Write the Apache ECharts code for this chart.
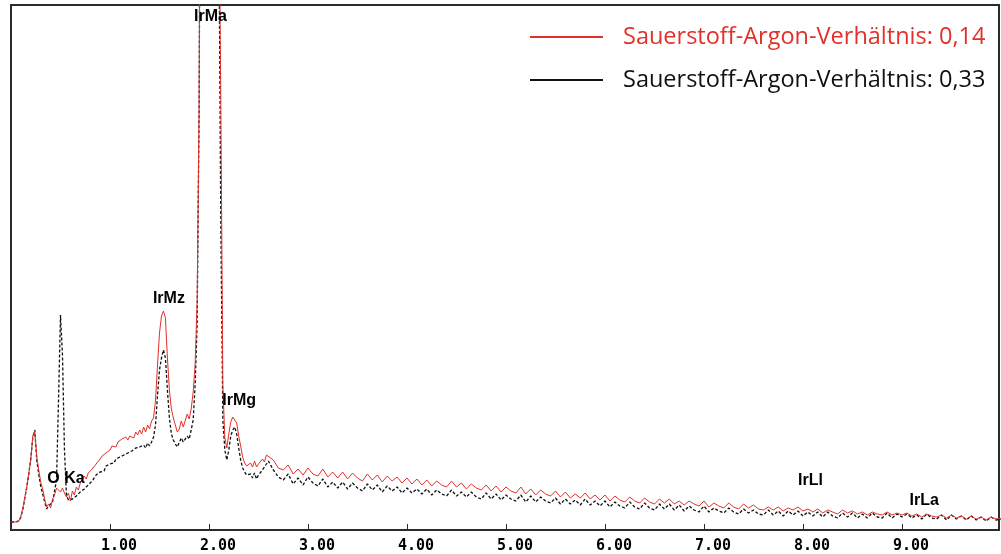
<!DOCTYPE html>
<html>
<head>
<meta charset="utf-8">
<script src="https://cdn.jsdelivr.net/npm/echarts@6/dist/echarts.min.js"></script>
<style>
  html, body { margin: 0; padding: 0; background: #fff; }
  #spectrum { width: 1001px; height: 554px; }
</style>
</head>
<body>
<div id="spectrum"></div>
<script>
// channel energies (keV)
const energy = [
  0, 0.02, 0.04, 0.06, 0.08, 0.1, 0.12, 0.14, 0.16, 0.18,
  0.2, 0.22, 0.24, 0.26, 0.28, 0.3, 0.32, 0.34, 0.36, 0.38,
  0.4, 0.42, 0.44, 0.46, 0.48, 0.5, 0.52, 0.54, 0.56, 0.58,
  0.6, 0.62, 0.64, 0.66, 0.68, 0.7, 0.72, 0.74, 0.76, 0.78,
  0.8, 0.82, 0.84, 0.86, 0.88, 0.9, 0.92, 0.94, 0.96, 0.98,
  1, 1.02, 1.04, 1.06, 1.08, 1.1, 1.12, 1.14, 1.16, 1.18,
  1.2, 1.22, 1.24, 1.26, 1.28, 1.3, 1.32, 1.34, 1.36, 1.38,
  1.4, 1.42, 1.44, 1.46, 1.48, 1.5, 1.52, 1.54, 1.56, 1.58,
  1.6, 1.62, 1.64, 1.66, 1.68, 1.7, 1.72, 1.74, 1.76, 1.78,
  1.8, 1.82, 1.84, 1.86, 1.88, 1.9, 1.92, 1.94, 1.96, 1.98,
  2, 2.02, 2.04, 2.06, 2.08, 2.1, 2.12, 2.14, 2.16, 2.18,
  2.2, 2.22, 2.24, 2.26, 2.28, 2.3, 2.32, 2.34, 2.36, 2.38,
  2.4, 2.42, 2.44, 2.46, 2.48, 2.5, 2.52, 2.54, 2.56, 2.58,
  2.6,
  2.65, 2.7, 2.75, 2.8, 2.85, 2.9, 2.95, 3, 3.05, 3.1,
  3.15, 3.2, 3.25, 3.3, 3.35, 3.4, 3.45, 3.5, 3.55, 3.6,
  3.65, 3.7, 3.75, 3.8, 3.85, 3.9, 3.95, 4, 4.05, 4.1,
  4.15, 4.2, 4.25, 4.3, 4.35, 4.4, 4.45, 4.5, 4.55, 4.6,
  4.65, 4.7, 4.75, 4.8, 4.85, 4.9, 4.95, 5, 5.05, 5.1,
  5.15, 5.2, 5.25, 5.3, 5.35, 5.4, 5.45, 5.5, 5.55, 5.6,
  5.65, 5.7, 5.75, 5.8, 5.85, 5.9, 5.95, 6, 6.05, 6.1,
  6.15, 6.2, 6.25, 6.3, 6.35, 6.4, 6.45, 6.5, 6.55, 6.6,
  6.65, 6.7, 6.75, 6.8, 6.85, 6.9, 6.95, 7, 7.05, 7.1,
  7.15, 7.2, 7.25, 7.3, 7.35, 7.4, 7.45, 7.5, 7.55, 7.6,
  7.65, 7.7, 7.75, 7.8, 7.85, 7.9, 7.95, 8, 8.05, 8.1,
  8.15, 8.2, 8.25, 8.3, 8.35, 8.4, 8.45, 8.5, 8.55, 8.6,
  8.65, 8.7, 8.75, 8.8, 8.85, 8.9, 8.95, 9, 9.05, 9.1,
  9.15, 9.2, 9.25, 9.3, 9.35, 9.4, 9.45, 9.5, 9.55, 9.6,
  9.65, 9.7, 9.75, 9.8, 9.85, 9.9, 9.95, 10
];

// counts, O/Ar ratio 0.14 (red)
const countsLow = [
  8, 8, 8, 8, 9, 14, 22, 33, 44, 57,
  70, 94, 99, 74, 60, 48, 41, 31, 23, 26,
  22, 31, 35, 42, 44, 38, 42, 37, 33, 37,
  29, 39, 35, 43, 40, 47, 48, 54, 51, 57,
  58, 61, 62, 66, 68, 71, 74, 72, 77, 79,
  80, 84, 85, 83, 88, 87, 91, 89, 93, 90,
  94, 96, 92, 98, 95, 100, 96, 103, 98, 105,
  101, 109, 112, 130, 165, 197, 214, 219, 212, 172,
  140, 121, 112, 105, 98, 101, 109, 103, 104, 116,
  111, 121, 138, 166, 228, 420, 900, 900, 900, 900,
  900, 900, 900, 900, 900, 900, 420, 145, 92, 82,
  96, 108, 113, 115, 107, 94, 84, 73, 67, 64,
  62, 67, 63, 69, 63, 66, 64, 71, 68, 75,
  77,
  70, 62, 60, 65, 56, 61, 55, 62, 56, 54,
  61, 53, 58, 52, 58, 51, 57, 52, 49, 56,
  50, 55, 48, 54, 49, 53, 47, 52, 46, 51,
  45, 50, 44, 49, 45, 43, 49, 43, 47, 41,
  46, 42, 40, 45, 39, 44, 38, 43, 39, 37,
  43, 36, 41, 35, 40, 36, 34, 39, 33, 38,
  32, 36, 32, 37, 31, 35, 30, 35, 29, 34,
  30, 28, 33, 29, 27, 32, 28, 26, 31, 27,
  31, 26, 29, 25, 29, 26, 24, 29, 23, 27,
  24, 22, 27, 23, 21, 26, 22, 25, 21, 20,
  23, 20, 23, 19, 22, 20, 23, 19, 21, 18,
  21, 17, 20, 18, 16, 20, 17, 19, 16, 18,
  15, 18, 16, 15, 18, 15, 17, 15, 17, 14,
  16, 13, 16, 14, 13, 15, 12, 15, 12, 14,
  11, 14, 11, 13, 10, 13, 11, 12
];

// counts, O/Ar ratio 0.33 (black, dashed)
const countsHigh = [
  8, 8, 8, 8, 9, 13, 21, 32, 43, 56,
  72, 92, 100, 70, 56, 44, 36, 28, 21, 24,
  23, 28, 30, 50, 130, 215, 175, 80, 35, 30,
  28, 31, 30, 34, 33, 38, 36, 41, 40, 45,
  44, 49, 50, 55, 54, 58, 60, 59, 64, 63,
  66, 68, 67, 71, 70, 73, 72, 75, 74, 77,
  76, 79, 78, 82, 80, 83, 81, 85, 82, 87,
  84, 88, 93, 105, 135, 160, 172, 180, 172, 140,
  112, 96, 90, 86, 83, 85, 92, 88, 90, 94,
  91, 100, 110, 145, 205, 420, 900, 900, 900, 900,
  900, 900, 900, 900, 900, 600, 300, 110, 80, 70,
  80, 94, 100, 103, 96, 82, 70, 62, 58, 55,
  53, 56, 52, 57, 51, 55, 54, 60, 58, 66,
  69,
  60, 53, 50, 56, 46, 52, 45, 53, 47, 44,
  51, 43, 48, 42, 48, 41, 47, 42, 39, 46,
  40, 45, 38, 44, 39, 43, 37, 42, 37, 41,
  36, 41, 35, 40, 36, 34, 40, 34, 38, 33,
  38, 33, 31, 37, 31, 36, 30, 35, 31, 29,
  35, 28, 34, 28, 33, 29, 27, 32, 26, 31,
  26, 30, 25, 31, 25, 29, 24, 29, 23, 28,
  24, 22, 28, 23, 21, 27, 22, 20, 26, 21,
  26, 20, 25, 19, 24, 20, 18, 24, 18, 22,
  19, 17, 22, 18, 16, 21, 17, 20, 16, 15,
  20, 15, 19, 14, 19, 15, 19, 14, 18, 14,
  18, 13, 18, 14, 12, 17, 13, 17, 12, 16,
  12, 17, 13, 12, 17, 12, 16, 13, 16, 12,
  15, 11, 16, 12, 11, 15, 10, 15, 11, 14,
  10, 14, 10, 13, 9, 13, 10, 11
];

// line identifications
const peakNames = ["O Ka", "IrMz", "IrMa", "IrMg", "IrLl", "IrLa"];
const peakEnergy = [0.56, 1.6, 2.02, 2.31, 8.08, 9.23];
const peakLabelHeight = [51, 231, 513, 129, 49, 29];

const seriesNames = ["Sauerstoff-Argon-Verhältnis: 0,14", "Sauerstoff-Argon-Verhältnis: 0,33"];
const RED = "#e2302a";
const BLACK = "#111111";

const toPairs = values => energy.map((e, i) => [e, values[i]]);

const chart = echarts.init(document.getElementById("spectrum"));

chart.setOption({
  animation: false,
  backgroundColor: "#fff",
  grid: {
    left: 11, right: 2, top: 5, bottom: 24,
    show: true, borderColor: "#2b2b2b", borderWidth: 2,
  },
  legend: {
    orient: "vertical",
    left: 530,
    top: 25,
    padding: 0,
    icon: "rect",
    itemWidth: 73,
    itemHeight: 2,
    itemGap: 19,
    textStyle: { fontFamily: "Open Sans", fontSize: 23.5, padding: [0, 0, 0, 15] },
    data: [
      { name: seriesNames[0], textStyle: { color: RED } },
      { name: seriesNames[1], textStyle: { color: BLACK } },
    ],
  },
  xAxis: {
    type: "value",
    min: 0,
    max: 9.98,
    interval: 1,
    splitLine: { show: false },
    axisLine: { show: true, lineStyle: { color: "#2b2b2b", width: 2 } },
    axisTick: { show: true, inside: true, length: 6, lineStyle: { color: "#2b2b2b", width: 1 } },
    axisLabel: {
      showMinLabel: false,
      showMaxLabel: false,
      margin: 9,
      color: "#000",
      fontFamily: "DejaVu Sans Mono",
      fontWeight: "bold",
      fontSize: 15,
      padding: [0, 0, 0, 18],
      formatter: value => value.toFixed(2),
    },
  },
  yAxis: {
    type: "value",
    min: 0,
    max: 525,
    show: false,
    splitLine: { show: false },
  },
  series: [
    {
      name: seriesNames[0],
      type: "line",
      data: toPairs(countsLow),
      showSymbol: false,
      clip: true,
      z: 3,
      itemStyle: { color: RED },
      lineStyle: { color: RED, width: 1 },
    },
    {
      name: seriesNames[1],
      type: "line",
      data: toPairs(countsHigh),
      showSymbol: false,
      clip: true,
      z: 2,
      itemStyle: { color: BLACK },
      lineStyle: { color: BLACK, width: 1.3, type: [3, 2] },
    },
    {
      name: "labels",
      type: "scatter",
      symbolSize: 1,
      z: 5,
      silent: true,
      itemStyle: { color: "transparent" },
      data: peakNames.map((name, i) => ({ name, value: [peakEnergy[i], peakLabelHeight[i]] })),
      label: {
        show: true,
        position: [0, 0],
        align: "center",
        verticalAlign: "middle",
        formatter: "{b}",
        color: "#000",
        opacity: 1,
        fontFamily: "Liberation Sans",
        fontWeight: "bold",
        fontSize: 16,
      },
    },
  ],
});
</script>
</body>
</html>
